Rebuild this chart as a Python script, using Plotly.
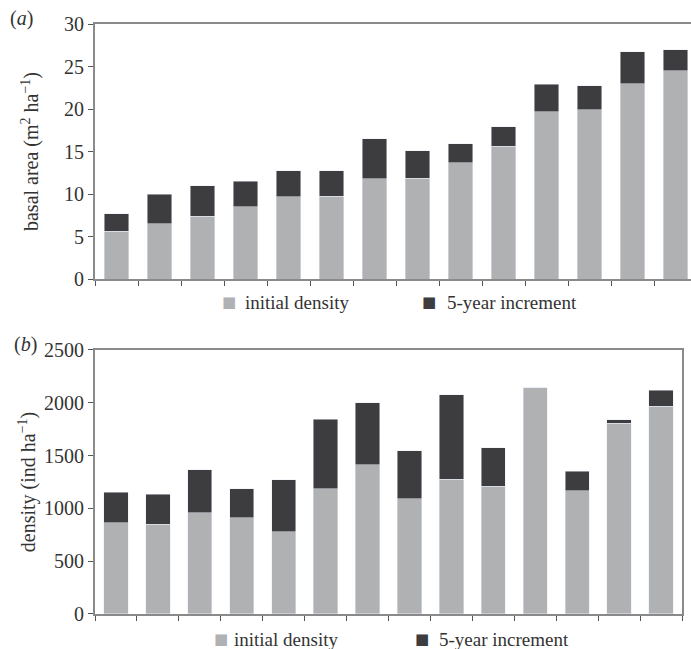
import plotly.graph_objects as go

plots = [str(i) for i in range(1, 15)]

basal_initial = [5.6, 6.5, 7.4, 8.5, 9.65, 9.75, 11.8, 11.85, 13.7, 15.6, 19.7, 19.9, 23.0, 24.5]
basal_total = [7.65, 10.0, 11.0, 11.5, 12.75, 12.75, 16.5, 15.1, 15.9, 17.9, 22.9, 22.75, 26.75, 27.0]
basal_increment = [t - i for t, i in zip(basal_total, basal_initial)]

dens_initial = [862, 849, 960, 912, 780, 1187, 1411, 1089, 1275, 1209, 2140, 1168, 1806, 1967]
dens_total = [1152, 1136, 1367, 1184, 1269, 1843, 2001, 1544, 2074, 1575, 2140, 1354, 1837, 2118]
dens_increment = [t - i for t, i in zip(dens_total, dens_initial)]

series_names = ["initial density", "5-year increment"]

LIGHT = "#afb1b3"
DARK = "#3d3d3f"
AXIS = "#8a8a8a"
FONT = "Liberation Serif"
TXT = "#333"
COLORS = [LIGHT, DARK]

fig = go.Figure()
fig.add_trace(go.Bar(x=plots, y=basal_initial, name=series_names[0], marker_color=LIGHT,
                     xaxis="x", yaxis="y", showlegend=False))
fig.add_trace(go.Bar(x=plots, y=basal_increment, name=series_names[1], marker_color=DARK,
                     xaxis="x", yaxis="y", showlegend=False))
fig.add_trace(go.Bar(x=plots, y=dens_initial, name=series_names[0], marker_color=LIGHT,
                     xaxis="x2", yaxis="y2", showlegend=False))
fig.add_trace(go.Bar(x=plots, y=dens_increment, name=series_names[1], marker_color=DARK,
                     xaxis="x2", yaxis="y2", showlegend=False))

xcommon = dict(type="category", tickson="boundaries", ticks="outside", ticklen=5, tickwidth=1,
               tickcolor="#555", showticklabels=False, showline=True, linewidth=2,
               linecolor=AXIS, showgrid=False, zeroline=False, automargin=False)
ycommon = dict(ticks="outside", ticklen=5, tickwidth=1, tickcolor="#555", showline=True,
               linewidth=2, linecolor=AXIS, showgrid=False, zeroline=False, automargin=False,
               tickfont=dict(family=FONT, size=20, color=TXT))

# legend entries drawn as text (square glyph + label), one row under each panel
annotations = []
legend_rows = [
    (0.5288, [(0.2248, 0.2483), (0.5604, 0.5872)]),
    (-0.0424, [(0.2114, 0.2299), (0.5487, 0.5738)]),
]
for ly, entries in legend_rows:
    for (sx, tx), name, col in zip(entries, series_names, COLORS):
        annotations.append(dict(text="■", xref="paper", yref="paper", x=sx, y=ly,
                                xanchor="center", yanchor="middle", showarrow=False,
                                font=dict(family="DejaVu Sans", size=15, color=col)))
        annotations.append(dict(text=name, xref="paper", yref="paper", x=tx, y=ly,
                                xanchor="left", yanchor="middle", showarrow=False,
                                font=dict(family=FONT, size=19, color=TXT)))

annotations += [
    dict(text="(<i>a</i>)", xref="paper", yref="paper", x=-0.146, y=1.0085,
         xanchor="left", yanchor="middle", showarrow=False,
         font=dict(family=FONT, size=20, color=TXT)),
    dict(text="(<i>b</i>)", xref="paper", yref="paper", x=-0.139, y=0.4576,
         xanchor="left", yanchor="middle", showarrow=False,
         font=dict(family=FONT, size=20, color=TXT)),
]

fig.update_layout(
    width=691, height=649,
    margin=dict(l=95, r=0, t=24, b=35),
    paper_bgcolor="white", plot_bgcolor="white",
    showlegend=False,
    barmode="stack", bargap=0.42,
    xaxis=dict(domain=[0, 1], range=[-0.5, 13.36], mirror=True, anchor="y", **xcommon),
    yaxis=dict(domain=[0.5678, 1], range=[0, 30], dtick=5, mirror=False, anchor="x",
               title=dict(text="basal area (m<sup>2</sup> ha<sup>−1</sup>)",
                          font=dict(family=FONT, size=20, color=TXT), standoff=20),
               **ycommon),
    xaxis2=dict(domain=[0, 0.9849], range=[-0.5, 13.5], mirror=True, anchor="y2", **xcommon),
    yaxis2=dict(domain=[0, 0.4475], range=[0, 2500], dtick=500, mirror=True, anchor="x2",
                title=dict(text="density (ind ha<sup>−1</sup>)",
                           font=dict(family=FONT, size=20, color=TXT), standoff=3),
                **ycommon),
    annotations=annotations,
)

fig.write_html("out.html", config={"displayModeBar": False},
               post_script="document.body.style.margin='0';document.body.style.padding='0';")
